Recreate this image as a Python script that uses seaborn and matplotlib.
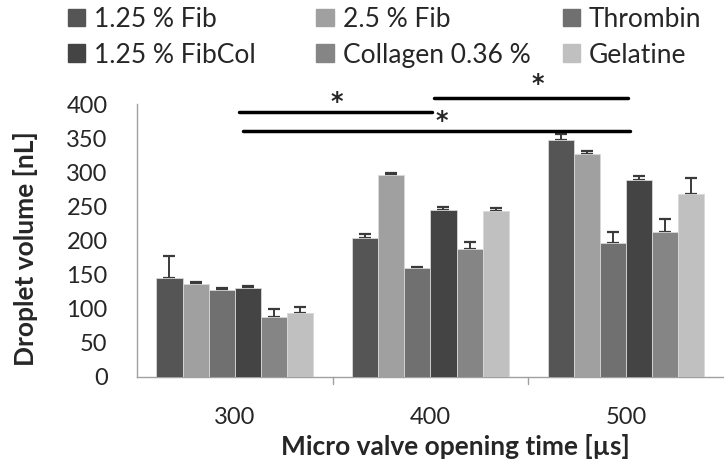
import seaborn as sns
import matplotlib.pyplot as plt
import pandas as pd
import numpy as np

# valve opening times (categories)
times = ["300", "400", "500"]
groups = ["1.25 % Fib", "2.5 % Fib", "Thrombin", "1.25 % FibCol", "Collagen 0.36 %", "Gelatine"]

# droplet volumes [nL] and upper errors
fib125 = [145, 203, 347]
fib25 = [136, 296, 327]
thrombin = [127, 159, 196]
fibcol = [130, 245, 289]
collagen = [88, 187, 212]
gelatine = [94, 243, 268]

fib125_err = [32, 6, 9]
fib25_err = [3, 3, 5]
thrombin_err = [3, 2, 17]
fibcol_err = [3, 4, 6]
collagen_err = [12, 11, 20]
gelatine_err = [8, 4, 23]

colors = ["#555555", "#a0a0a0", "#707070", "#444444", "#858585", "#c0c0c0"]

values = [fib125, fib25, thrombin, fibcol, collagen, gelatine]
errors = [fib125_err, fib25_err, thrombin_err, fibcol_err, collagen_err, gelatine_err]

rows = []
for g, vals in zip(groups, values):
    for t, v in zip(times, vals):
        rows.append({"time": t, "group": g, "volume": v})
df = pd.DataFrame(rows)

sns.set_style("white")
plt.rcParams["font.family"] = ["Lato", "DejaVu Sans"]

fig = plt.figure(figsize=(7.24, 4.63), dpi=100)
ax = fig.add_axes([0.189, 0.186, 0.811, 0.589])

sns.barplot(data=df, x="time", y="volume", hue="group", hue_order=groups,
            palette=colors, width=0.8, saturation=1, ax=ax, legend=False,
            edgecolor="#d8d8d8", linewidth=0.6, zorder=3)

# upper error bars only
for cont, err in zip(ax.containers, errors):
    xs = [b.get_x() + b.get_width() / 2 for b in cont]
    hs = [b.get_height() for b in cont]
    ax.errorbar(xs, hs, yerr=[np.zeros(len(err)), err], fmt="none",
                ecolor="#3a3a3a", elinewidth=1.4, capsize=4.5, capthick=1.6, zorder=2)

ax.set_xlim(-0.5, 2.5)
ax.set_ylim(0, 400)
ax.set_yticks(range(0, 401, 50))
ax.tick_params(axis="both", labelsize=17, length=0)
ax.tick_params(axis="y", pad=21)
ax.tick_params(axis="x", pad=22)
for s in ["top", "right"]:
    ax.spines[s].set_visible(False)
for s in ["left", "bottom"]:
    ax.spines[s].set_color("#a0a0a0")
    ax.spines[s].set_linewidth(1)
# category separators on the x-axis
for xt in [0.5, 1.5]:
    ax.plot([xt, xt], [0, -0.025], transform=ax.get_xaxis_transform(),
            color="#a0a0a0", lw=1, clip_on=False)

ax.set_xlabel("Micro valve opening time [µs]", fontsize=19, fontweight="bold")
ax.set_ylabel("Droplet volume [nL]", fontsize=19, fontweight="bold")
ax.xaxis.set_label_coords(0.543, -0.21)
ax.yaxis.set_label_coords(-0.168, 0.47)

# significance brackets
sig = [(0.02, 1.01, 389, 0.52, 403), (1.02, 2.01, 409, 1.55, 429), (0.04, 2.02, 360, 1.06, 375)]
for x0, x1, y, xs, ys in sig:
    ax.plot([x0, x1], [y, y], color="black", lw=2.5, clip_on=False, zorder=5)
    ax.text(xs, ys, "*", ha="center", va="center", fontsize=17, fontweight="bold",
            family="DejaVu Sans", clip_on=False)

# legend: one small legend per column so columns sit where they do in the figure
handles = [plt.Rectangle((0, 0), 1, 1, color=c) for c in colors]
col_x = [0.094, 0.437, 0.777]
for k in range(3):
    leg = fig.legend([handles[k], handles[k + 3]], [groups[k], groups[k + 3]],
                     loc="upper left", bbox_to_anchor=(col_x[k], 0.985), frameon=False,
                     fontsize=19, handlelength=0.65, handleheight=0.65, handletextpad=0.35,
                     borderpad=0, borderaxespad=0, labelspacing=0.4)

fig.savefig("out.png", dpi=100)
